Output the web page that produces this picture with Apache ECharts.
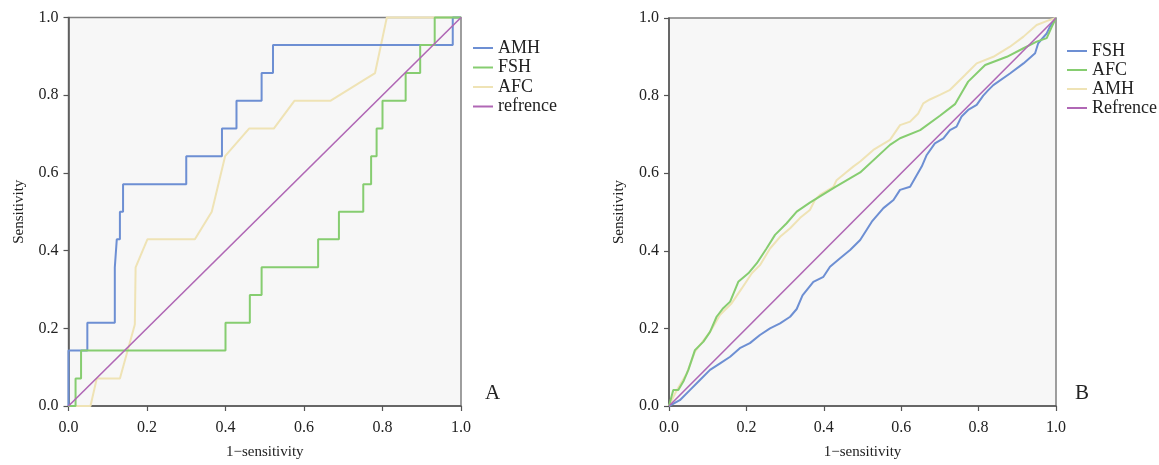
<!DOCTYPE html>
<html>
<head>
<meta charset="utf-8">
<script src="https://cdn.jsdelivr.net/npm/echarts@6/dist/echarts.min.js"></script>
<style>
html,body{margin:0;padding:0;background:#fff;}
#chart{width:1159px;height:465px;}
</style>
</head>
<body>
<div id="chart"></div>
<script>
// ---------- Data ----------
var xTicks = [0, 0.2, 0.4, 0.6, 0.8, 1.0];

// Panel A
var A_AMH = [[0,0],[0,0.143],[0.048,0.143],[0.048,0.214],[0.118,0.214],[0.118,0.357],[0.123,0.357],[0.123,0.429],[0.131,0.429],[0.131,0.5],[0.139,0.5],[0.139,0.571],[0.30,0.571],[0.30,0.643],[0.391,0.643],[0.391,0.714],[0.428,0.714],[0.428,0.786],[0.492,0.786],[0.492,0.857],[0.521,0.857],[0.521,0.929],[0.979,0.929],[0.979,1],[1,1]];
var A_FSH = [[0,0],[0.018,0],[0.018,0.071],[0.032,0.071],[0.032,0.143],[0.40,0.143],[0.40,0.214],[0.462,0.214],[0.462,0.286],[0.492,0.286],[0.492,0.357],[0.636,0.357],[0.636,0.429],[0.689,0.429],[0.689,0.5],[0.751,0.5],[0.751,0.571],[0.771,0.571],[0.771,0.643],[0.785,0.643],[0.785,0.714],[0.80,0.714],[0.80,0.786],[0.859,0.786],[0.859,0.857],[0.896,0.857],[0.896,0.929],[0.933,0.929],[0.933,1],[1,1]];
var A_AFC = [[0,0],[0.056,0],[0.072,0.071],[0.131,0.071],[0.169,0.21],[0.171,0.357],[0.201,0.429],[0.322,0.429],[0.365,0.5],[0.399,0.643],[0.46,0.714],[0.523,0.714],[0.576,0.786],[0.668,0.786],[0.781,0.857],[0.811,1],[1,1]];
var A_REF = [[0,0],[1,1]];

// Panel B
var B_FSH = [[0,0],[0.028,0.015],[0.054,0.041],[0.08,0.067],[0.106,0.093],[0.132,0.11],[0.158,0.127],[0.183,0.149],[0.209,0.162],[0.235,0.183],[0.261,0.2],[0.287,0.213],[0.313,0.23],[0.33,0.25],[0.345,0.285],[0.373,0.32],[0.399,0.333],[0.416,0.359],[0.442,0.381],[0.468,0.402],[0.494,0.428],[0.524,0.475],[0.554,0.51],[0.58,0.531],[0.597,0.557],[0.623,0.565],[0.64,0.595],[0.653,0.617],[0.666,0.647],[0.687,0.677],[0.709,0.69],[0.726,0.711],[0.743,0.72],[0.756,0.746],[0.773,0.763],[0.795,0.776],[0.812,0.8],[0.825,0.814],[0.838,0.827],[0.881,0.857],[0.916,0.883],[0.946,0.909],[0.954,0.935],[0.976,0.96],[0.984,0.977],[1,1]];
var B_AFC = [[0,0],[0.011,0.041],[0.024,0.041],[0.037,0.063],[0.05,0.093],[0.067,0.144],[0.089,0.166],[0.106,0.191],[0.123,0.23],[0.14,0.252],[0.158,0.269],[0.179,0.32],[0.205,0.342],[0.227,0.368],[0.252,0.406],[0.274,0.441],[0.304,0.471],[0.33,0.501],[0.364,0.524],[0.43,0.565],[0.494,0.602],[0.571,0.673],[0.597,0.69],[0.649,0.711],[0.7,0.748],[0.739,0.778],[0.76,0.814],[0.773,0.836],[0.817,0.879],[0.873,0.9],[0.916,0.922],[0.95,0.939],[0.976,0.948],[0.989,0.977],[1,1]];
var B_AMH = [[0,0],[0.016,0.033],[0.028,0.054],[0.046,0.084],[0.067,0.14],[0.106,0.191],[0.132,0.235],[0.162,0.265],[0.188,0.303],[0.214,0.342],[0.235,0.363],[0.261,0.406],[0.287,0.436],[0.313,0.458],[0.339,0.485],[0.364,0.505],[0.377,0.531],[0.39,0.544],[0.425,0.565],[0.433,0.582],[0.455,0.6],[0.476,0.617],[0.494,0.63],[0.528,0.66],[0.571,0.686],[0.597,0.724],[0.623,0.733],[0.644,0.754],[0.657,0.78],[0.674,0.79],[0.7,0.802],[0.725,0.814],[0.765,0.853],[0.795,0.883],[0.838,0.9],[0.881,0.926],[0.916,0.952],[0.95,0.982],[0.984,0.995],[1,1]];
var B_REF = [[0,0],[1,1]];

var legendA = ['AMH','FSH','AFC','refrence'];
var legendB = ['FSH ','AFC ','AMH ','Refrence'];

// ---------- Styles ----------
var FONT = 'Liberation Serif';
var C_BLUE = '#6d8fd3', C_GREEN = '#86cd70', C_TAN = '#efe3b5', C_PURPLE = '#b067b5';

function xAxis(idx){
  return {
    gridIndex: idx, type:'value', min:0, max:1, interval:0.2,
    name:'1\u2212sensitivity', nameLocation:'middle', nameGap:39,
    nameTextStyle:{fontFamily:FONT, fontSize:15, color:'#222'},
    axisLine:{show:true, onZero:false, lineStyle:{color:'#555', width:1.5}},
    axisTick:{show:true, length:5, lineStyle:{color:'#555', width:1.2}},
    axisLabel:{fontFamily:FONT, fontSize:16, color:'#222', margin:14, formatter:function(v){return v.toFixed(1);}},
    splitLine:{show:false}
  };
}
function yAxis(idx){
  return {
    gridIndex: idx, type:'value', min:0, max:1, interval:0.2,
    name:'Sensitivity', nameLocation:'middle', nameGap:42, nameRotate:90,
    nameTextStyle:{fontFamily:FONT, fontSize:15, color:'#222'},
    axisLine:{show:true, onZero:false, lineStyle:{color:'#555', width:1.5}},
    axisTick:{show:true, length:5, lineStyle:{color:'#555', width:1.2}},
    axisLabel:{fontFamily:FONT, fontSize:16, color:'#222', margin:10, formatter:function(v){return v.toFixed(1);}},
    splitLine:{show:false}
  };
}
function line(name, data, color, w, idx, z){
  return {name:name, type:'line', data:data, xAxisIndex:idx, yAxisIndex:idx,
    showSymbol:false, symbol:'none', clip:false, z:z||2, animation:false,
    lineStyle:{color:color, width:w}, itemStyle:{color:color}};
}

var chart = echarts.init(document.getElementById('chart'));
chart.setOption({
  animation:false,
  backgroundColor:'#ffffff',
  grid:[
    {left:68.5, right:698, top:17.5, bottom:56, show:true, backgroundColor:'#f7f7f7', borderColor:'#808080', borderWidth:1.5},
    {left:669, right:103, top:18, bottom:59, show:true, backgroundColor:'#f7f7f7', borderColor:'#808080', borderWidth:1.5}
  ],
  xAxis:[xAxis(0), xAxis(1)],
  yAxis:[yAxis(0), yAxis(1)],
  legend:[
    {data:legendA, orient:'vertical', left:473, top:39, itemWidth:20, itemHeight:2, icon:'rect', itemGap:1.5, padding:0, selectedMode:false,
      textStyle:{fontFamily:FONT, fontSize:18, color:'#222', lineHeight:18}},
    {data:legendB, orient:'vertical', left:1067, top:42, itemWidth:20, itemHeight:2, icon:'rect', itemGap:1, padding:0, selectedMode:false,
      textStyle:{fontFamily:FONT, fontSize:18, color:'#222', lineHeight:18}}
  ],
  graphic:[
    {type:'text', left:485, top:383, style:{text:'A', fontFamily:FONT, fontSize:21, fill:'#222'}},
    {type:'text', left:1075, top:383, style:{text:'B', fontFamily:FONT, fontSize:21, fill:'#222'}}
  ],
  series:[
    line('AMH', A_AMH, C_BLUE, 2, 0, 3),
    line('FSH', A_FSH, C_GREEN, 2, 0, 3),
    line('AFC', A_AFC, C_TAN, 2, 0, 2),
    line('refrence', A_REF, C_PURPLE, 1.6, 0, 4),
    line('FSH ', B_FSH, C_BLUE, 2, 1, 3),
    line('AFC ', B_AFC, C_GREEN, 2, 1, 3),
    line('AMH ', B_AMH, C_TAN, 2, 1, 2),
    line('Refrence', B_REF, C_PURPLE, 1.6, 1, 4)
  ]
});
</script>
</body>
</html>
